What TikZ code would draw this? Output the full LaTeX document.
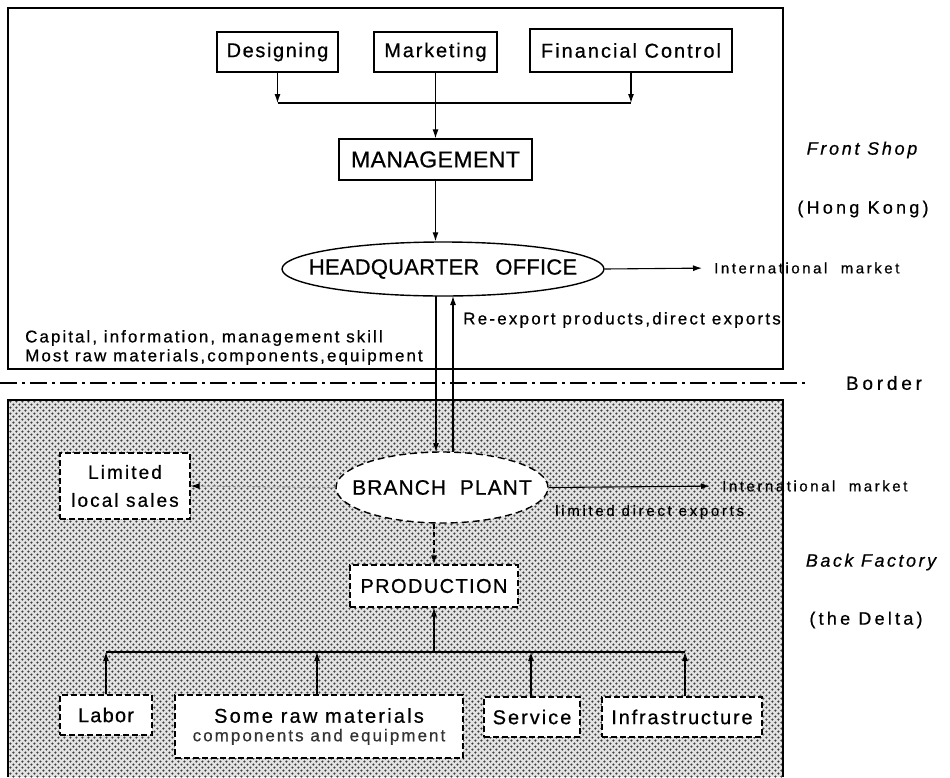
\documentclass[tikz,border=0pt]{standalone}
\usepackage{fontspec}
\setmainfont{Liberation Sans}
\usetikzlibrary{shapes.geometric,arrows.meta,patterns}
\newcommand\tf[2]{\fontsize{#1}{#1}\selectfont\addfontfeatures{LetterSpace=#2,FakeBold=0.6}}
\pgfdeclarepatternformonly{halftone}{\pgfqpoint{0pt}{0pt}}{\pgfqpoint{6.4pt}{6.4pt}}{\pgfqpoint{6.4pt}{6.4pt}}{%
  \pgfpathcircle{\pgfqpoint{1.6pt}{1.6pt}}{1.35pt}%
  \pgfpathcircle{\pgfqpoint{4.8pt}{4.8pt}}{1.35pt}%
  \pgfusepath{fill}}
\begin{document}
\begin{tikzpicture}[x=1pt,y=-1pt,
  box/.style={draw, line width=1.3pt, fill=white, inner sep=0pt, align=center},
  dbox/.style={box, dash pattern=on 6pt off 3pt, line width=1.2pt},
  oval/.style={draw, ellipse, line width=1.4pt, fill=white, inner sep=0pt},
  arr/.style={-{Latex[length=9pt,width=6pt]}, line width=1.1pt},
  lab/.style={inner sep=0pt, anchor=west},
  side/.style={inner sep=0pt}
]
\useasboundingbox (0,0) rectangle (950,777);
% front shop frame
\draw[line width=1.4pt] (8,8) rectangle (783,369);
% back factory area
\fill[gray!22] (8,400) rectangle (783,777);
\fill[pattern=halftone, pattern color=black!75] (8,400) rectangle (783,777);
\draw[line width=1.4pt] (8,777) -- (8,400) -- (783,400) -- (783,777);
% border line
\draw[line width=2.2pt, dash pattern=on 17pt off 5pt on 3pt off 5pt] (0,383) -- (808,383);
\node[side, font=\tf{19}{20}] (border) at (884,383) {Border};

% top nodes
\node[box, minimum width=121pt, minimum height=40pt, font=\tf{20}{8}] (des) at (277.5,52) {Designing};
\node[box, minimum width=123pt, minimum height=40pt, font=\tf{20}{9}] (mkt) at (435.5,52) {Marketing};
\node[box, minimum width=202pt, minimum height=43pt, font=\tf{20}{10}] (fin) at (631,50.5) {Financial Control};
\coordinate (busL) at (277.5,103);
\coordinate (busR) at (631,103);
\draw[arr] (des.south) -- (busL);
\draw[arr] (fin.south) -- (busR);
\draw[line width=1.1pt] (busL) -- (busR);
\node[box, minimum width=193pt, minimum height=41pt, font=\tf{23}{2}] (mgmt) at (435.5,159.5) {MANAGEMENT};
\draw[arr] (mkt.south) -- (mgmt.north);
\node[oval, minimum width=322pt, minimum height=54pt, font=\tf{22}{1}] (hq) at (443,269) {\makebox[0pt]{HEADQUARTER\hspace{16pt}OFFICE}};
\draw[arr] (mgmt.south) -- (mgmt.south |- hq.north);
\node[lab, font=\tf{15}{17}] (im1) at (714,268) {International\ \ market};
\draw[arr, shorten >=12pt] (hq.east) -- (im1.west);

\node[side, font=\tf{18}{15}\itshape] (fs) at (862,150) {Front Shop};
\node[side, font=\tf{18}{18}] (hk) at (863,209) {(Hong Kong)};

\node[lab, font=\tf{17}{13}] (reexp) at (463,320) {Re-export products,direct exports};
\node[lab, font=\tf{17}{12}] (cap) at (25,338) {Capital, information, management skill};
\node[lab, font=\tf{17}{12}] (most) at (25,357) {Most raw materials,components,equipment};

% branch plant
\node[oval, dash pattern=on 7pt off 4pt, minimum width=212pt, minimum height=71pt, font=\tf{21}{5}] (br) at (442,487.5) {\makebox[0pt]{BRANCH\ \ PLANT}};
\draw[arr] (436,296) -- (436,452);
\draw[arr] (453,452) -- (453,296);

\node[dbox, minimum width=130pt, minimum height=66pt, font=\tf{19}{11}] (lls) at (125,486) {Limited\\[9pt]local sales};
\draw[-{Latex[length=9pt,width=6pt,color=black]}, line width=1.1pt, gray!75, dash pattern=on 3pt off 2pt] (br.west) -- (lls.east);

\node[lab, font=\tf{15}{17}] (im2) at (722,486) {International\ \ market};
\draw[arr, shorten >=12pt] (br.east) -- (im2.west);
\node[lab, font=\tf{15}{18}] (lde) at (555,512) {limited direct exports.};

\node[side, font=\tf{18}{14}\itshape] (bf) at (871,562) {Back Factory};
\node[side, font=\tf{18}{18}] (del) at (866,620) {(the Delta)};

\node[dbox, minimum width=168pt, minimum height=42pt, font=\tf{20}{7}] (prod) at (434,586) {PRODUCTION};
\draw[arr, dash pattern=on 5pt off 3pt] (prod.north |- br.south) -- (prod.north);

% input boxes
\node[dbox, minimum width=92pt, minimum height=40pt, font=\tf{20}{6}] (lab) at (106,715) {Labor};
\node[dbox, minimum width=288pt, minimum height=63pt] (raw) at (319,726.5) {{\tf{20}{11}Some raw materials}\\[5pt]{\tf{17}{12}\color{black!80}components and equipment}};
\node[dbox, minimum width=96pt, minimum height=40pt, font=\tf{20}{10}] (srv) at (532,717) {Service};
\node[dbox, minimum width=160pt, minimum height=40pt, font=\tf{20}{9}] (inf) at (682,717) {Infrastructure};

\coordinate (b1) at (106,652);
\coordinate (b2) at (317,652);
\coordinate (b3) at (531,652);
\coordinate (b4) at (685,652);
\coordinate (bp) at (434,652);
\draw[line width=1.1pt] (b1) -- (b4);
\draw[arr] (lab.north) -- (b1);
\draw[arr] (raw.north -| b2) -- (b2);
\draw[arr] (srv.north -| b3) -- (b3);
\draw[arr] (inf.north -| b4) -- (b4);
\draw[arr] (bp) -- (prod.south);
\end{tikzpicture}
\end{document}
